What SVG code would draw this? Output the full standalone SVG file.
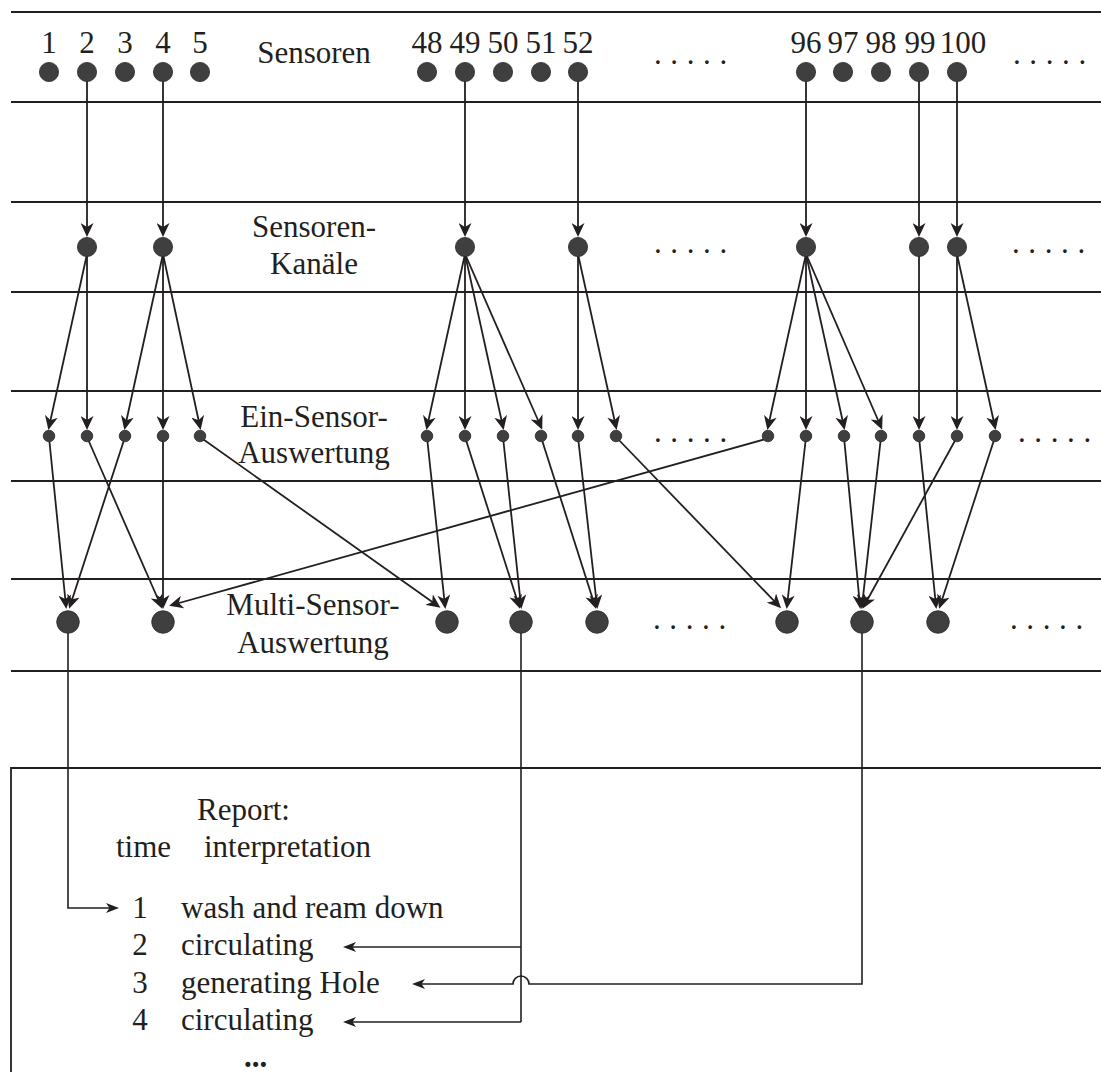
<svg xmlns="http://www.w3.org/2000/svg" width="1101" height="1072" viewBox="0 0 1101 1072">
  <style>
    .band { stroke: #231f20; stroke-width: 1.8; fill: none; }
    .wire { stroke: #231f20; stroke-width: 1.8; fill: none; marker-end: url(#head); }
    .feed { stroke: #231f20; stroke-width: 1.6; fill: none; marker-end: url(#headSmall); }
    .plain { stroke: #231f20; stroke-width: 1.6; fill: none; }
    .dot { fill: #3f3f3f; stroke: #2b2b2b; stroke-width: 0.8; }
    text { font-family: "Liberation Serif", "Times New Roman", serif; font-size: 31px; fill: #231f20; }
    .mid { text-anchor: middle; }
    .ell { letter-spacing: 8.6px; }
  </style>
  <defs>
    <marker id="head" viewBox="0 0 14 13" refX="11" refY="6.5" markerWidth="14" markerHeight="13" markerUnits="userSpaceOnUse" orient="auto">
      <path d="M14,6.5 L0,0 L4,6.5 L0,13 Z" fill="#231f20"/>
    </marker>
    <marker id="headSmall" viewBox="0 0 13 10" refX="10" refY="5" markerWidth="13" markerHeight="10" markerUnits="userSpaceOnUse" orient="auto">
      <path d="M13,5 L0,0 L3.5,5 L0,10 Z" fill="#231f20"/>
    </marker>
  </defs>
  <rect width="1101" height="1072" fill="#ffffff"/>

  <!-- horizontal layer bands -->
  <g id="bands">
    <line class="band" x1="11" y1="12" x2="1101" y2="12"/>
    <line class="band" x1="11" y1="102" x2="1101" y2="102"/>
    <line class="band" x1="11" y1="202" x2="1101" y2="202"/>
    <line class="band" x1="11" y1="292" x2="1101" y2="292"/>
    <line class="band" x1="11" y1="391" x2="1101" y2="391"/>
    <line class="band" x1="11" y1="481" x2="1101" y2="481"/>
    <line class="band" x1="11" y1="579" x2="1101" y2="579"/>
    <line class="band" x1="11" y1="671" x2="1101" y2="671"/>
  </g>

  <!-- report frame -->
  <g id="report-frame">
    <path class="band" d="M1101,768 H11 V1072"/>
  </g>

  <!-- layer labels -->
  <g id="labels">
    <text class="mid" x="314" y="63">Sensoren</text>
    <text class="mid" x="314" y="237">Sensoren-</text>
    <text class="mid" x="314" y="274">Kanäle</text>
    <text class="mid" x="314" y="427">Ein-Sensor-</text>
    <text class="mid" x="314" y="463">Auswertung</text>
    <text class="mid" x="313" y="615">Multi-Sensor-</text>
    <text class="mid" x="313" y="653">Auswertung</text>
  </g>

  <!-- sensor numbers -->
  <g id="sensor-numbers">
    <text class="mid" x="49" y="53">1</text>
    <text class="mid" x="87" y="53">2</text>
    <text class="mid" x="125" y="53">3</text>
    <text class="mid" x="163" y="53">4</text>
    <text class="mid" x="200" y="53">5</text>
    <text class="mid" x="427" y="53">48</text>
    <text class="mid" x="465" y="53">49</text>
    <text class="mid" x="503" y="53">50</text>
    <text class="mid" x="541" y="53">51</text>
    <text class="mid" x="578" y="53">52</text>
    <text class="mid" x="806" y="53">96</text>
    <text class="mid" x="843" y="53">97</text>
    <text class="mid" x="881" y="53">98</text>
    <text class="mid" x="920" y="53">99</text>
    <text class="mid" x="963" y="53">100</text>
  </g>

  <!-- ellipses marking omitted elements -->
  <g id="ellipses">
    <text class="ell" x="654" y="64">.....</text>
    <text class="ell" x="1013" y="64">.....</text>
    <text class="ell" x="654" y="253">.....</text>
    <text class="ell" x="1012" y="253">.....</text>
    <text class="ell" x="654" y="442">.....</text>
    <text class="ell" x="1018" y="442">.....</text>
    <text class="ell" x="653" y="629">.....</text>
    <text class="ell" x="1010" y="629">.....</text>
  </g>

  <!-- connectors -->
  <g id="connectors">
    <!-- sensors to sensor channels -->
    <line class="wire" x1="87" y1="72" x2="87" y2="234"/>
    <line class="wire" x1="163" y1="72" x2="163" y2="234"/>
    <line class="wire" x1="465" y1="72" x2="465" y2="234"/>
    <line class="wire" x1="578" y1="72" x2="578" y2="234"/>
    <line class="wire" x1="806" y1="72" x2="806" y2="234"/>
    <line class="wire" x1="919" y1="72" x2="919" y2="234"/>
    <line class="wire" x1="957" y1="72" x2="957" y2="234"/>

    <!-- sensor channels to single-sensor evaluation -->
    <line class="wire" x1="87" y1="254" x2="49" y2="427"/>
    <line class="wire" x1="87" y1="254" x2="87" y2="427"/>
    <line class="wire" x1="163" y1="254" x2="125" y2="427"/>
    <line class="wire" x1="163" y1="254" x2="163" y2="427"/>
    <line class="wire" x1="163" y1="254" x2="200" y2="427"/>
    <line class="wire" x1="465" y1="254" x2="427" y2="427"/>
    <line class="wire" x1="465" y1="254" x2="465" y2="427"/>
    <line class="wire" x1="465" y1="254" x2="503" y2="427"/>
    <line class="wire" x1="465" y1="254" x2="541" y2="427"/>
    <line class="wire" x1="578" y1="254" x2="578" y2="427"/>
    <line class="wire" x1="578" y1="254" x2="616" y2="427"/>
    <line class="wire" x1="806" y1="254" x2="768" y2="427"/>
    <line class="wire" x1="806" y1="254" x2="806" y2="427"/>
    <line class="wire" x1="806" y1="254" x2="844" y2="427"/>
    <line class="wire" x1="806" y1="254" x2="881" y2="427"/>
    <line class="wire" x1="919" y1="254" x2="919" y2="427"/>
    <line class="wire" x1="957" y1="254" x2="957" y2="427"/>
    <line class="wire" x1="957" y1="254" x2="995" y2="427"/>

    <!-- single-sensor evaluation to multi-sensor evaluation -->
    <line class="wire" x1="49" y1="437" x2="66" y2="606"/>
    <line class="wire" x1="125" y1="437" x2="70" y2="606"/>
    <line class="wire" x1="87" y1="437" x2="161" y2="606"/>
    <line class="wire" x1="163" y1="437" x2="163" y2="606"/>
    <line class="wire" x1="766" y1="439" x2="172" y2="605"/>
    <line class="wire" x1="200" y1="437" x2="438" y2="606"/>
    <line class="wire" x1="427" y1="437" x2="445" y2="606"/>
    <line class="wire" x1="465" y1="437" x2="519" y2="606"/>
    <line class="wire" x1="503" y1="437" x2="521" y2="606"/>
    <line class="wire" x1="541" y1="437" x2="595" y2="606"/>
    <line class="wire" x1="578" y1="437" x2="597" y2="606"/>
    <line class="wire" x1="616" y1="437" x2="779" y2="606"/>
    <line class="wire" x1="806" y1="437" x2="787" y2="606"/>
    <line class="wire" x1="844" y1="437" x2="860" y2="606"/>
    <line class="wire" x1="881" y1="437" x2="862" y2="606"/>
    <line class="wire" x1="957" y1="437" x2="864" y2="606"/>
    <line class="wire" x1="919" y1="437" x2="936" y2="606"/>
    <line class="wire" x1="995" y1="437" x2="940" y2="606"/>

    <!-- multi-sensor evaluation to report -->
    <path class="feed" d="M68,622 V908 H116"/>
    <path class="plain" d="M521,622 V1022"/>
    <path class="feed" d="M521,947 H346"/>
    <path class="feed" d="M521,1022 H346"/>
    <path class="feed" d="M862,622 V984 H529 A8,8 0 0 0 513,984 H415"/>
  </g>

  <!-- sensors -->
  <g id="sensors">
    <g id="s1"><circle class="dot" cx="49" cy="72" r="9.6"/></g>
    <g id="s2"><circle class="dot" cx="87" cy="72" r="9.6"/></g>
    <g id="s3"><circle class="dot" cx="125" cy="72" r="9.6"/></g>
    <g id="s4"><circle class="dot" cx="163" cy="72" r="9.6"/></g>
    <g id="s5"><circle class="dot" cx="200" cy="72" r="9.6"/></g>
    <g id="s48"><circle class="dot" cx="427" cy="72" r="9.6"/></g>
    <g id="s49"><circle class="dot" cx="465" cy="72" r="9.6"/></g>
    <g id="s50"><circle class="dot" cx="503" cy="72" r="9.6"/></g>
    <g id="s51"><circle class="dot" cx="541" cy="72" r="9.6"/></g>
    <g id="s52"><circle class="dot" cx="578" cy="72" r="9.6"/></g>
    <g id="s96"><circle class="dot" cx="806" cy="72" r="9.6"/></g>
    <g id="s97"><circle class="dot" cx="843" cy="72" r="9.6"/></g>
    <g id="s98"><circle class="dot" cx="881" cy="72" r="9.6"/></g>
    <g id="s99"><circle class="dot" cx="919" cy="72" r="9.6"/></g>
    <g id="s100"><circle class="dot" cx="957" cy="72" r="9.6"/></g>
  </g>

  <!-- sensor channels -->
  <g id="channels">
    <g id="k2"><circle class="dot" cx="87" cy="247" r="9.6"/></g>
    <g id="k4"><circle class="dot" cx="163" cy="247" r="9.6"/></g>
    <g id="k49"><circle class="dot" cx="465" cy="247" r="9.6"/></g>
    <g id="k52"><circle class="dot" cx="578" cy="247" r="9.6"/></g>
    <g id="k96"><circle class="dot" cx="806" cy="247" r="9.6"/></g>
    <g id="k99"><circle class="dot" cx="919" cy="247" r="9.6"/></g>
    <g id="k100"><circle class="dot" cx="957" cy="247" r="9.6"/></g>
  </g>

  <!-- single-sensor evaluation -->
  <g id="single">
    <g id="e1"><circle class="dot" cx="49" cy="436" r="5.8"/></g>
    <g id="e2"><circle class="dot" cx="87" cy="436" r="5.8"/></g>
    <g id="e3"><circle class="dot" cx="125" cy="436" r="5.8"/></g>
    <g id="e4"><circle class="dot" cx="163" cy="436" r="5.8"/></g>
    <g id="e5"><circle class="dot" cx="200" cy="436" r="5.8"/></g>
    <g id="e6"><circle class="dot" cx="427" cy="436" r="5.8"/></g>
    <g id="e7"><circle class="dot" cx="465" cy="436" r="5.8"/></g>
    <g id="e8"><circle class="dot" cx="503" cy="436" r="5.8"/></g>
    <g id="e9"><circle class="dot" cx="541" cy="436" r="5.8"/></g>
    <g id="e10"><circle class="dot" cx="578" cy="436" r="5.8"/></g>
    <g id="e11"><circle class="dot" cx="616" cy="436" r="5.8"/></g>
    <g id="e12"><circle class="dot" cx="768" cy="436" r="5.8"/></g>
    <g id="e13"><circle class="dot" cx="806" cy="436" r="5.8"/></g>
    <g id="e14"><circle class="dot" cx="844" cy="436" r="5.8"/></g>
    <g id="e15"><circle class="dot" cx="881" cy="436" r="5.8"/></g>
    <g id="e16"><circle class="dot" cx="919" cy="436" r="5.8"/></g>
    <g id="e17"><circle class="dot" cx="957" cy="436" r="5.8"/></g>
    <g id="e18"><circle class="dot" cx="995" cy="436" r="5.8"/></g>
  </g>

  <!-- multi-sensor evaluation -->
  <g id="multi">
    <g id="m1"><circle class="dot" cx="68" cy="622" r="11.3"/></g>
    <g id="m2"><circle class="dot" cx="163" cy="622" r="11.3"/></g>
    <g id="m3"><circle class="dot" cx="447" cy="622" r="11.3"/></g>
    <g id="m4"><circle class="dot" cx="521" cy="622" r="11.3"/></g>
    <g id="m5"><circle class="dot" cx="597" cy="622" r="11.3"/></g>
    <g id="m6"><circle class="dot" cx="787" cy="622" r="11.3"/></g>
    <g id="m7"><circle class="dot" cx="862" cy="622" r="11.3"/></g>
    <g id="m8"><circle class="dot" cx="938" cy="622" r="11.3"/></g>
  </g>

  <!-- report listing -->
  <g id="report">
    <text x="197" y="820">Report:</text>
    <text x="116" y="857">time</text>
    <text x="204" y="857">interpretation</text>
    <text class="mid" x="140" y="918">1</text>
    <text x="181" y="918">wash and ream down</text>
    <text class="mid" x="140" y="955">2</text>
    <text x="181" y="955">circulating</text>
    <text class="mid" x="140" y="993">3</text>
    <text x="181" y="993">generating Hole</text>
    <text class="mid" x="140" y="1030">4</text>
    <text x="181" y="1030">circulating</text>
    <text x="244" y="1067" font-weight="bold">...</text>
  </g>
</svg>
